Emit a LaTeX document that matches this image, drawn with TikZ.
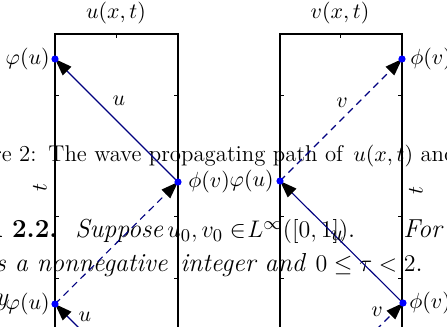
\documentclass[tikz,border=0pt]{standalone}
\usetikzlibrary{arrows.meta}
\definecolor{lineblue}{RGB}{0,0,128}
\definecolor{dotblue}{RGB}{0,0,255}
\begin{document}
\begin{tikzpicture}[x=0.5pt,y=-0.5pt,
  font=\fontsize{10.5}{12.6}\selectfont,
  boxline/.style={line width=0.9pt, line join=miter},
  tickline/.style={line width=0.5pt},
  solidpath/.style={draw=lineblue, line width=0.55pt, -{Triangle[length=8.5pt,width=6pt,color=black]}},
  dashpath/.style={solidpath, dash pattern=on 3.5pt off 2.5pt},
  dot/.style={circle, fill=dotblue, inner sep=0pt, minimum size=3.6pt},
  lbl/.style={inner sep=0pt},
  capt/.style={inner sep=0pt, font=\fontsize{11.4}{13.7}\selectfont},
  lemt/.style={inner sep=0pt, font=\fontsize{13}{15.6}\selectfont}]
\useasboundingbox (0,0) rectangle (447,327);
\clip (0,0) rectangle (447,327);

% background text
\node[capt, anchor=base east] (capfig) at (37,162) {Figure 2:};
\node[capt, anchor=base west] (cap1) at (48,162) {The wave propagating path of};
\node[capt, anchor=base west] (cap2) at (353,162) {$u(x,t)$ and $v(x,t)$};
\node[lemt, anchor=base east] (lem) at (58,238) {\bfseries Lemma 2.2.};
\node[lemt, anchor=base west] (lem1) at (75,238) {\itshape Suppose};
\node[lemt, anchor=base west] (lem2) at (167,238) {$u_0, v_0 \in$};
\node[lemt, anchor=base west] (lem2b) at (247,238) {$L^\infty([0,1])$.};
\node[lemt, anchor=base west] (lem3) at (403,238) {\itshape For};
\node[lemt, anchor=base east] (l3a) at (168,271) {\itshape is a nonnegative};
\node[lemt, anchor=base west] (l3b) at (180,271) {\itshape integer and};
\node[lemt, anchor=base east] (l3c) at (423,271) {$0 \le \tau < 2$.};
\node[lemt, anchor=base east] (line4) at (8,306) {\itshape by};

% boxes
\draw[boxline] (55,335) -- (55,34) -- (178,34) -- (178,335);
\draw[boxline] (280,335) -- (280,34) -- (402,34) -- (402,335);
\foreach \yy in {95,217,279} {
  \draw[tickline] (55,\yy) -- ++(4,0);
  \draw[tickline] (178,\yy) -- ++(-4,0);
  \draw[tickline] (280,\yy) -- ++(4,0);
  \draw[tickline] (402,\yy) -- ++(-4,0);
}
\draw[tickline] (116.5,34) -- ++(0,4);
\draw[tickline] (341,34) -- ++(0,4);

% titles and axis labels
\node (ttlu) at (116,13) {$u(x,t)$};
\node (ttlv) at (340,13) {$v(x,t)$};
\node[rotate=90] (tl) at (40,188) {$t$};
\node[rotate=90] (tr) at (416,191) {$t$};

% points
\coordinate (a1) at (55,59);
\coordinate (a2) at (178,182);
\coordinate (a3) at (55,304);
\coordinate (a4) at (82,331);
\coordinate (b1) at (402,59);
\coordinate (b2) at (280,181);
\coordinate (b3) at (403,303);
\coordinate (b4) at (376,330);

% connectors
\draw[solidpath] (a2) -- (a1);
\draw[dashpath] (a3) -- (a2);
\draw[solidpath] (a4) -- (a3);
\draw[dashpath] (b2) -- (b1);
\draw[solidpath] (b3) -- (b2);
\draw[dashpath] (b4) -- (b3);

% dots
\node[dot] (da1) at (a1) {};
\node[dot] (da2) at (a2) {};
\node[dot] (da3) at (a3) {};
\node[dot] (db1) at (b1) {};
\node[dot] (db2) at (b2) {};
\node[dot] (db3) at (b3) {};

% point labels
\node[lbl, anchor=east] (pa1) at (50,59) {$\varphi(u)$};
\node[lbl, anchor=west] (pa2) at (188,182) {$\phi(v)$};
\node[lbl, anchor=east] (pa3) at (50,304) {$\varphi(u)$};
\node[lbl, anchor=west] (pb1) at (410,59) {$\phi(v)$};
\node[lbl, anchor=east] (pb2) at (274,181) {$\varphi(u)$};
\node[lbl, anchor=west] (pb3) at (409,303) {$\phi(v)$};

% path labels
\node (lu1) at (119,101) {$u$};
\node (lv1) at (342,103) {$v$};
\node (lu3) at (337,236) {$u$};
\node (lu2) at (85,317) {$u$};
\node (lv2) at (377,312) {$v$};
\end{tikzpicture}
\end{document}
